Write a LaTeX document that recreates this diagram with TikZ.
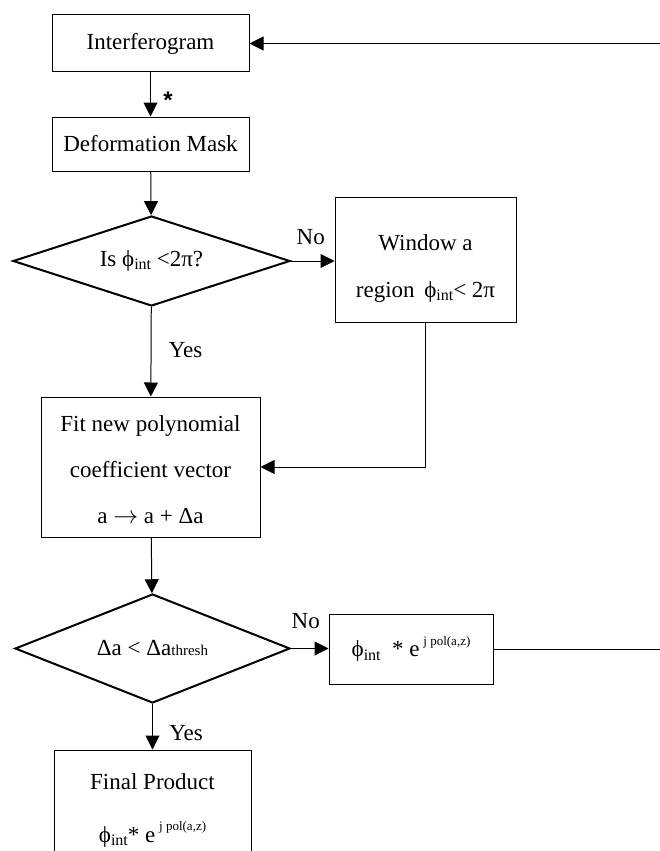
\documentclass[tikz,border=0pt]{standalone}
\usepackage{fontspec}
\setmainfont{Liberation Serif}
\setsansfont{Liberation Sans}
\usetikzlibrary{shapes.geometric,arrows.meta}
\newcommand{\phint}{ϕ\raisebox{-0.3ex}{\fontsize{16}{16}\selectfont int}}
\newcommand{\polexp}{e\,\raisebox{1.1ex}{\fontsize{13}{13}\selectfont j pol(a,z)}}
\begin{document}
\begin{tikzpicture}[x=1pt,y=-1pt,
    every node/.style={font=\fontsize{23}{27}\selectfont},
    box/.style={draw, line width=1pt, inner sep=0pt, align=center},
    test/.style={draw, diamond, line width=2pt, inner sep=0pt, aspect=3},
    arr/.style={-{Triangle[length=14pt,width=14pt]}, line width=1pt}]
    \useasboundingbox (0,0) rectangle (660,851);
    % draw the boxes
    \node[box, minimum width=197, minimum height=57] (interf) at (150.5,43.5) {Interferogram};
    \node[box, minimum width=197, minimum height=54] (mask) at (150.5,144) {Deformation Mask};
    \node[box, minimum width=181, minimum height=125] (window) at (425.5,259.5)
        {\rule{0pt}{34pt}Window a\\[20pt]region \,\phint< 2π};
    \node[box, minimum width=219, minimum height=140] (fit) at (150.5,467)
        {\rule{0pt}{22pt}Fit new polynomial\\[19pt]coefficient vector\\[19pt]a $\rightarrow$ a + Δa};
    \node[box, minimum width=164, minimum height=70] (product) at (411,649)
        {\phint\ \ * \polexp};
    \node[box, minimum width=197, minimum height=120] (final) at (152.5,810)
        {Final Product\\[26pt]\phint* \polexp};
    % the two tests
    \node[test, minimum width=277, minimum height=90] (test1) at (151.5,261)
        {Is \phint\ <2π?};
    \node[test, minimum width=275, minimum height=109] (test2) at (152.5,648.5)
        {Δa < Δa{\fontsize{15}{15}\selectfont thresh}};
    % the loose ends at the right border
    \coordinate (back1) at (660,43.5);
    \coordinate (back2) at (660,649);
    % draw the arrows
    \draw[arr] (back1) -- (interf.east);
    \draw[arr] (interf) -- node[right, font=\sffamily\bfseries\fontsize{24}{24}\selectfont, xshift=9pt, yshift=-6pt] {*} (mask);
    \draw[arr] (mask) -- (test1);
    \draw[arr] (test1.east) -- node[above, yshift=12pt, xshift=-2pt] {No} (test1.east -| window.west);
    \draw[arr] (test1) -- node[right, xshift=14pt, yshift=2pt] {Yes} (fit);
    \draw[arr] (window.south) |- (fit.east);
    \draw[arr] (fit) -- (test2);
    \draw[arr] (test2.east) -- node[above, yshift=16pt, xshift=-4pt] {No} (test2.east -| product.west);
    \draw[line width=1pt] (product.east) -- (back2);
    \draw[arr] (test2) -- node[right, xshift=13pt, yshift=-6pt] {Yes} (final);
\end{tikzpicture}
\end{document}
